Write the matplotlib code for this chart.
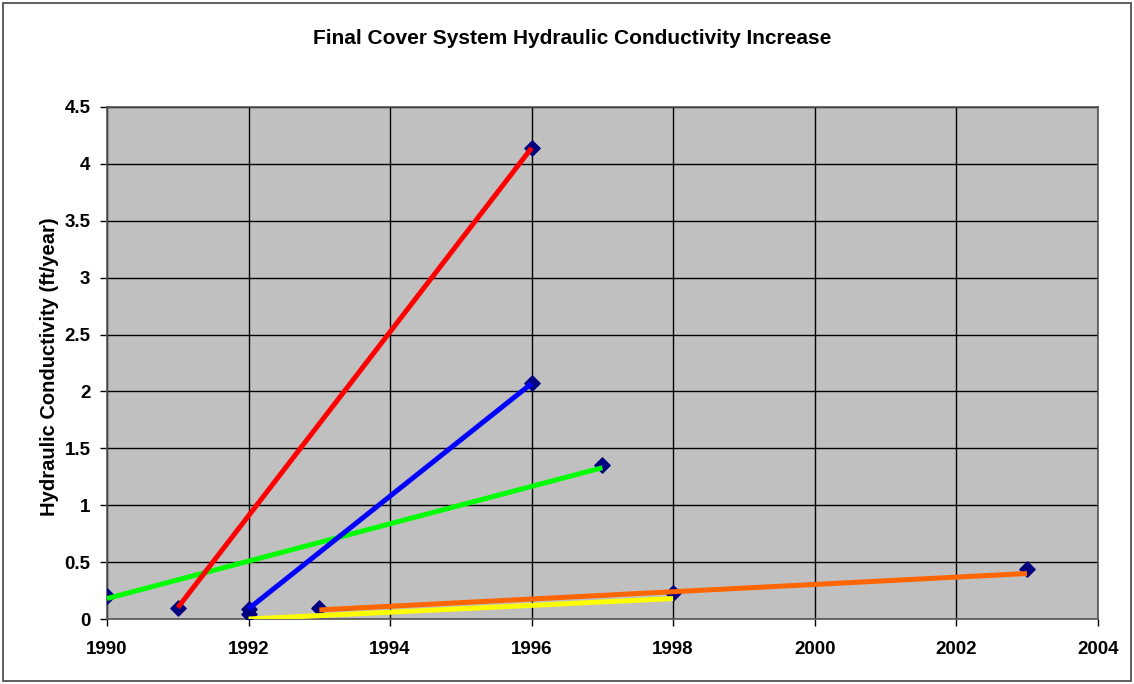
import matplotlib.pyplot as plt
from matplotlib.patches import Rectangle

plt.rcParams['font.family'] = ['Liberation Sans', 'DejaVu Sans']

# measured values (diamond markers)
point_years = [1990, 1991, 1992, 1992, 1993, 1996, 1996, 1997, 1998, 2003]
point_k = [0.20, 0.10, 0.09, 0.04, 0.10, 4.14, 2.07, 1.35, 0.23, 0.44]

# increase lines: (start year, end year, start k, end k)
line_years = {
    'red':    [1991, 1996],
    'blue':   [1992, 1996],
    'green':  [1990, 1997],
    'yellow': [1992, 1998],
    'orange': [1993, 2003],
}
line_k = {
    'red':    [0.10, 4.14],
    'blue':   [0.09, 2.07],
    'green':  [0.18, 1.33],
    'yellow': [0.00, 0.18],
    'orange': [0.08, 0.40],
}
line_colors = {
    'red': '#FF0000',
    'blue': '#0000FF',
    'green': '#00FF00',
    'yellow': '#FFFF00',
    'orange': '#FF6600',
}

fig = plt.figure(figsize=(11.34, 6.84), dpi=100)
ax = fig.add_axes([0.0944, 0.095, 0.8736, 0.7486])
ax.set_facecolor('#C0C0C0')

ax.scatter(point_years, point_k, marker='D', s=60, color='#000080', zorder=3)
for name in ['green', 'red', 'blue', 'yellow', 'orange']:
    ax.plot(line_years[name], line_k[name], color=line_colors[name],
            linewidth=3.6, solid_capstyle='butt', zorder=4)

ax.set_xlim(1990, 2004)
ax.set_ylim(0, 4.5)
ax.set_xticks(range(1990, 2005, 2))
ax.set_yticks([0, 0.5, 1, 1.5, 2, 2.5, 3, 3.5, 4, 4.5])
ax.set_yticklabels(['0', '0.5', '1', '1.5', '2', '2.5', '3', '3.5', '4', '4.5'])
ax.grid(True, color='black', linewidth=1.0)
ax.set_axisbelow(True)
for s in ax.spines.values():
    s.set_color('#555555')
    s.set_linewidth(1.2)
ax.tick_params(axis='both', direction='out', length=5, width=1, color='black',
               labelsize=13.5)
ax.tick_params(axis='x', pad=11)
ax.tick_params(axis='y', pad=7)
for lab in ax.get_xticklabels() + ax.get_yticklabels():
    lab.set_fontweight('bold')

fig.text(50 / 1134, 1 - 367 / 684, 'Hydraulic Conductivity (ft/year)', rotation=90,
         ha='center', va='center', fontsize=14.5, fontweight='bold')
fig.text(0.505, 0.944, 'Final Cover System Hydraulic Conductivity Increase',
         ha='center', va='center', fontsize=15, fontweight='bold')

# chart border
fig.patches.append(Rectangle((3 / 1134, 3 / 684), 1 - 6 / 1134, 1 - 6 / 684,
                             transform=fig.transFigure, fill=False,
                             edgecolor='#444444', linewidth=1.2))

fig.savefig('out.png', dpi=100)
